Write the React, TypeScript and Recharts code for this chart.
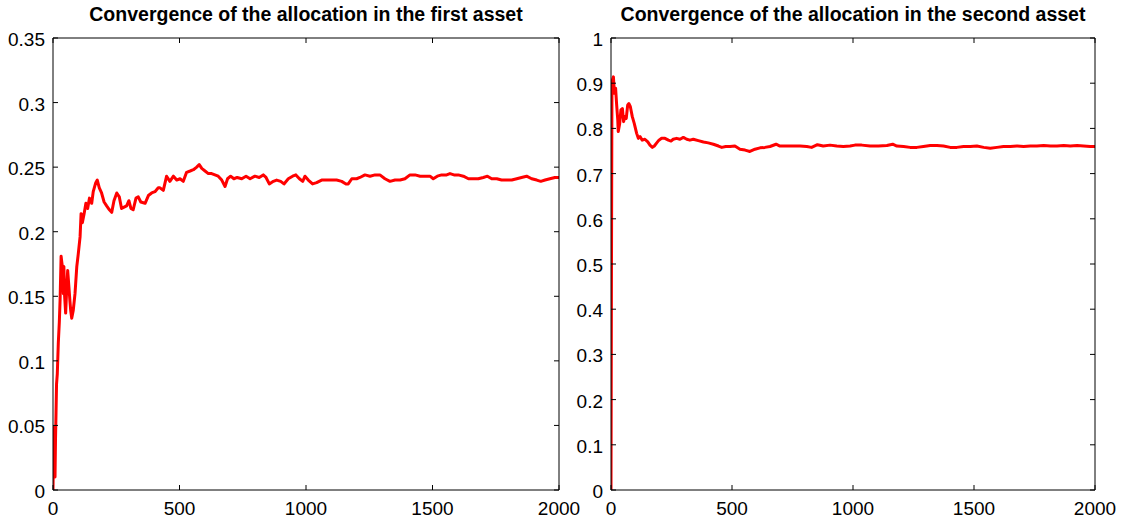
import React from "react";
import { LineChart, Line, XAxis, YAxis } from "recharts";

const firstSteps = [
  0, 2, 4, 6, 8, 10, 12, 14, 17, 21, 25, 28, 32, 35, 37, 39, 41, 43, 46, 50, 54, 58, 63, 67, 70, 74, 80, 87, 94, 100,
  107, 111, 116, 123, 130, 137, 144, 153, 159, 169, 175, 183, 192, 202, 212, 223, 232, 241, 252, 262, 271, 281, 291,
  300, 308, 317, 328, 337, 347, 364, 377, 390, 403, 416, 423, 436, 449, 462, 476, 489, 502, 515, 528, 542, 555, 568,
  578, 588, 601, 614, 627, 640, 653, 667, 680, 690, 702, 715, 728, 746, 763, 779, 798, 815, 831, 842, 855, 871, 884,
  900, 913, 930, 947, 960, 974, 987, 996, 1009, 1026, 1042, 1062, 1082, 1101, 1121, 1141, 1158, 1167, 1181, 1200,
  1213, 1233, 1253, 1273, 1292, 1312, 1332, 1352, 1372, 1391, 1411, 1431, 1451, 1470, 1490, 1503, 1519, 1536, 1556,
  1569, 1585, 1602, 1622, 1642, 1661, 1681, 1701, 1717, 1734, 1754, 1773, 1793, 1813, 1833, 1852, 1872, 1892, 1912,
  1928, 1945, 1964, 1984, 2000,
];
const firstAlloc = [
  0, 0.03, 0.049, 0.02, 0.01, 0.04, 0.06, 0.082, 0.09, 0.114, 0.13, 0.147, 0.181, 0.176, 0.173, 0.16, 0.152, 0.173,
  0.15, 0.137, 0.155, 0.17, 0.157, 0.146, 0.139, 0.133, 0.139, 0.152, 0.173, 0.183, 0.196, 0.214, 0.207, 0.214, 0.222,
  0.218, 0.226, 0.222, 0.231, 0.238, 0.24, 0.234, 0.23, 0.223, 0.22, 0.217, 0.215, 0.224, 0.23, 0.227, 0.218, 0.219,
  0.22, 0.224, 0.218, 0.217, 0.226, 0.227, 0.223, 0.222, 0.228, 0.23, 0.231, 0.234, 0.234, 0.232, 0.243, 0.239, 0.243,
  0.24, 0.241, 0.239, 0.246, 0.247, 0.248, 0.25, 0.252, 0.249, 0.247, 0.245, 0.245, 0.244, 0.243, 0.24, 0.235, 0.241,
  0.243, 0.241, 0.242, 0.241, 0.243, 0.241, 0.243, 0.242, 0.244, 0.242, 0.237, 0.239, 0.24, 0.239, 0.237, 0.241, 0.243,
  0.244, 0.241, 0.239, 0.243, 0.24, 0.237, 0.238, 0.24, 0.24, 0.24, 0.24, 0.239, 0.237, 0.237, 0.241, 0.241, 0.242,
  0.244, 0.243, 0.244, 0.244, 0.241, 0.239, 0.24, 0.24, 0.241, 0.244, 0.244, 0.243, 0.243, 0.243, 0.241, 0.243, 0.244,
  0.244, 0.245, 0.244, 0.244, 0.243, 0.241, 0.241, 0.241, 0.242, 0.243, 0.241, 0.241, 0.24, 0.24, 0.24, 0.241, 0.242,
  0.243, 0.241, 0.24, 0.239, 0.24, 0.241, 0.242, 0.242,
];

const secondSteps = [
  0, 2, 4, 6, 10, 14, 19, 23, 28, 30, 36, 41, 47, 52, 58, 63, 69, 74, 80, 88, 96, 106, 113, 120, 129, 140, 152, 161,
  171, 179, 189, 198, 209, 223, 237, 248, 257, 271, 285, 299, 313, 326, 340, 361, 382, 402, 423, 444, 458, 474, 492,
  512, 533, 554, 574, 595, 616, 636, 657, 682, 698, 726, 753, 781, 809, 829, 853, 877, 905, 933, 960, 988, 1008, 1036,
  1071, 1105, 1140, 1164, 1181, 1209, 1236, 1264, 1291, 1319, 1347, 1374, 1402, 1429, 1457, 1485, 1512, 1540, 1567,
  1595, 1622, 1650, 1678, 1705, 1733, 1760, 1788, 1816, 1843, 1871, 1898, 1926, 1953, 1980, 2000,
];
const secondAlloc = [
  0, 0.5, 0.9, 0.907, 0.914, 0.878, 0.889, 0.855, 0.818, 0.793, 0.811, 0.841, 0.844, 0.815, 0.826, 0.822, 0.852, 0.855,
  0.848, 0.826, 0.811, 0.789, 0.778, 0.782, 0.774, 0.776, 0.77, 0.763, 0.758, 0.761, 0.768, 0.774, 0.778, 0.778, 0.774,
  0.772, 0.776, 0.778, 0.776, 0.78, 0.776, 0.774, 0.776, 0.773, 0.77, 0.768, 0.765, 0.761, 0.758, 0.76, 0.76, 0.761,
  0.754, 0.752, 0.749, 0.754, 0.757, 0.758, 0.76, 0.765, 0.761, 0.761, 0.761, 0.761, 0.76, 0.758, 0.764, 0.761, 0.763,
  0.761, 0.76, 0.761, 0.763, 0.763, 0.761, 0.761, 0.762, 0.765, 0.761, 0.76, 0.758, 0.758, 0.76, 0.762, 0.762, 0.761,
  0.758, 0.758, 0.76, 0.76, 0.761, 0.758, 0.756, 0.758, 0.76, 0.76, 0.761, 0.76, 0.761, 0.761, 0.762, 0.761, 0.761,
  0.762, 0.761, 0.762, 0.761, 0.76, 0.76,
];

const stepTicks = [0, 500, 1000, 1500, 2000];
const firstTicks = [0, 0.05, 0.1, 0.15, 0.2, 0.25, 0.3, 0.35];
const secondTicks = [0, 0.1, 0.2, 0.3, 0.4, 0.5, 0.6, 0.7, 0.8, 0.9, 1];

const firstData = firstSteps.map((s, i) => ({ step: s, value: firstAlloc[i] }));
const secondData = secondSteps.map((s, i) => ({ step: s, value: secondAlloc[i] }));

const FONT = '"Liberation Sans", Arial, Helvetica, sans-serif';
const TICK_FS = 19;
const TL = 5;

const BottomTick = (props: any) => {
  const { x, y, payload } = props;
  return (
    <g>
      <line x1={x} x2={x} y1={y} y2={y - TL} stroke="#000" strokeWidth={1} />
      <text x={x} y={y + 25} textAnchor="middle" fontFamily={FONT} fontSize={TICK_FS} fill="#000">
        {String(payload.value)}
      </text>
    </g>
  );
};
const TopTick = (props: any) => {
  const { x, y } = props;
  return <line x1={x} x2={x} y1={y} y2={y + TL} stroke="#000" strokeWidth={1} />;
};
const LeftTick = (props: any) => {
  const { x, y, payload } = props;
  return (
    <g>
      <line x1={x} x2={x + TL} y1={y} y2={y} stroke="#000" strokeWidth={1} />
      <text x={x - 8} y={y + 8} textAnchor="end" fontFamily={FONT} fontSize={TICK_FS} fill="#000">
        {String(payload.value)}
      </text>
    </g>
  );
};
const RightTick = (props: any) => {
  const { x, y } = props;
  return <line x1={x} x2={x - TL} y1={y} y2={y} stroke="#000" strokeWidth={1} />;
};

const axisLine = { stroke: "#000", strokeWidth: 1 };

function Panel(props: { data: any[]; yTicks: number[]; yMax: number; width: number; right: number }) {
  const { data, yTicks, yMax, width, right } = props;
  return (
    <LineChart width={width} height={523} data={data} margin={{ top: 37, right: right, bottom: 0, left: 0 }}>
      <XAxis
        xAxisId="b"
        dataKey="step"
        type="number"
        domain={[0, 2000]}
        ticks={stepTicks}
        allowDataOverflow
        orientation="bottom"
        height={33}
        tickSize={0}
        tickMargin={0}
        tickLine={false}
        axisLine={axisLine}
        tick={<BottomTick />}
        interval={0}
      />
      <XAxis
        xAxisId="t"
        dataKey="step"
        type="number"
        domain={[0, 2000]}
        ticks={stepTicks}
        allowDataOverflow
        orientation="top"
        height={1}
        tickSize={0}
        tickMargin={0}
        tickLine={false}
        axisLine={axisLine}
        tick={<TopTick />}
        interval={0}
      />
      <YAxis
        yAxisId="l"
        type="number"
        domain={[0, yMax]}
        ticks={yTicks}
        allowDataOverflow
        orientation="left"
        width={53}
        tickSize={0}
        tickMargin={0}
        tickLine={false}
        axisLine={axisLine}
        tick={<LeftTick />}
        interval={0}
      />
      <YAxis
        yAxisId="r"
        type="number"
        domain={[0, yMax]}
        ticks={yTicks}
        allowDataOverflow
        orientation="right"
        width={1}
        tickSize={0}
        tickMargin={0}
        tickLine={false}
        axisLine={axisLine}
        tick={<RightTick />}
        interval={0}
      />
      <Line
        xAxisId="b"
        yAxisId="l"
        type="linear"
        dataKey="value"
        stroke="#ff0000"
        strokeWidth={3}
        dot={false}
        activeDot={false}
        isAnimationActive={false}
        strokeLinejoin="round"
      />
      <Line
        xAxisId="t"
        yAxisId="r"
        type="linear"
        dataKey="value"
        stroke="none"
        strokeWidth={0}
        dot={false}
        activeDot={false}
        isAnimationActive={false}
      />
    </LineChart>
  );
}

const titleStyle: React.CSSProperties = {
  position: "absolute",
  top: 5,
  textAlign: "center",
  fontFamily: FONT,
  fontWeight: "bold",
  fontSize: 19.5,
  lineHeight: "19px",
  color: "#000",
  whiteSpace: "nowrap",
};

export default function App() {
  return (
    <div style={{ position: "absolute", left: 0, top: 0, width: 1125, height: 523, background: "#fff", overflow: "hidden" }}>
      <div style={{ position: "absolute", left: 0, top: 0 }}>
        <Panel data={firstData} yTicks={firstTicks} yMax={0.35} width={600} right={40} />
      </div>
      <div style={{ position: "absolute", left: 558, top: 0 }}>
        <Panel data={secondData} yTicks={secondTicks} yMax={1} width={567} right={29} />
      </div>
      <div style={{ ...titleStyle, left: 53, width: 506 }}>Convergence of the allocation in the first asset</div>
      <div style={{ ...titleStyle, left: 611, width: 484 }}>Convergence of the allocation in the second asset</div>
    </div>
  );
}
